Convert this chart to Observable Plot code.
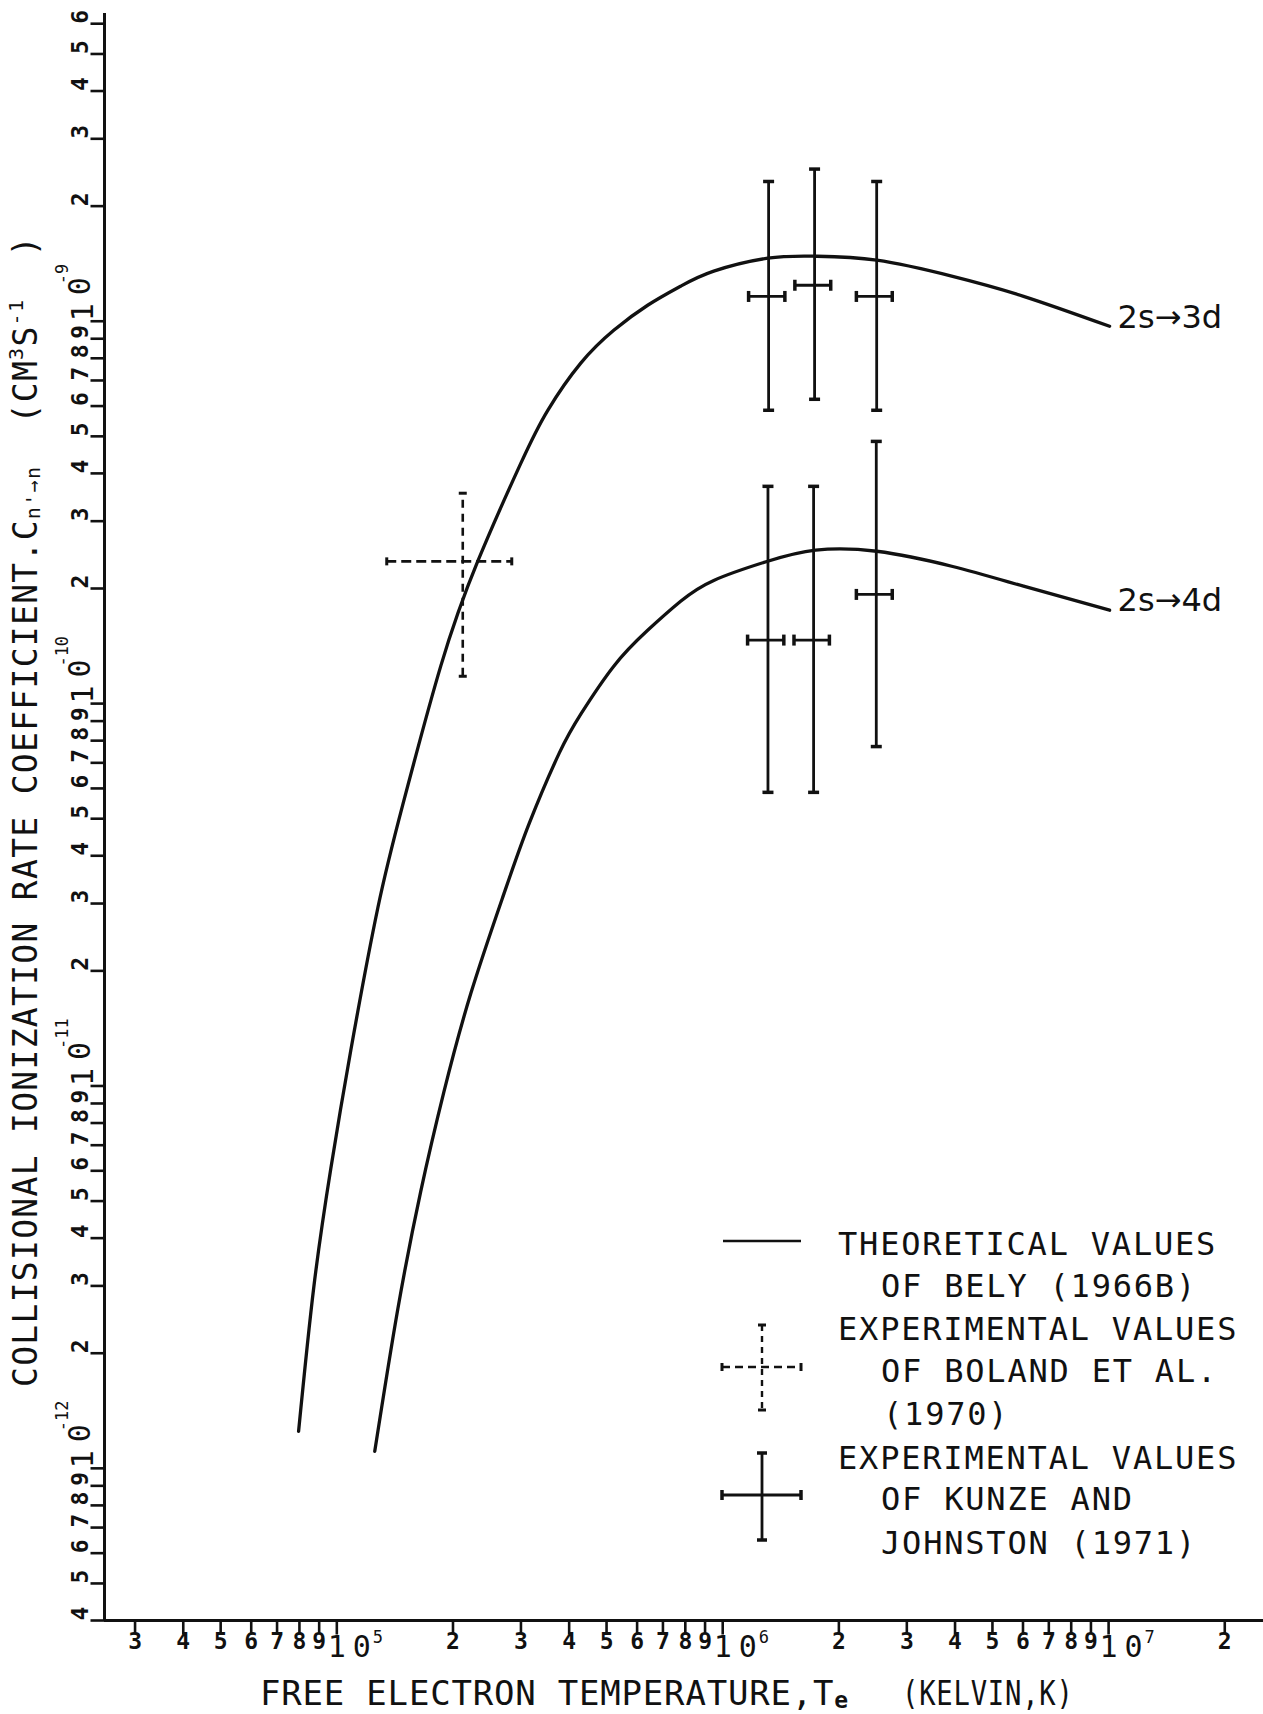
<!DOCTYPE html>
<html>
<head>
<meta charset="utf-8">
<script src="https://cdn.jsdelivr.net/npm/d3@7"></script>
<script src="https://cdn.jsdelivr.net/npm/@observablehq/plot@0.6"></script>
<style>
  html, body { margin: 0; padding: 0; background: #fff; }
  #chart svg { display: block; }
</style>
</head>
<body>
<div id="chart"></div>
<script>
// ---- Axis extents (kelvin, cm^3 s^-1) ----
const tempDomain = [2.5e4, 2.52e7];
const rateDomain = [4e-13, 6.38e-9];

// ---- Tick values and labels ----
const xMinorTicks = [3e4, 4e4, 5e4, 6e4, 7e4, 8e4, 9e4,
  2e5, 3e5, 4e5, 5e5, 6e5, 7e5, 8e5, 9e5,
  2e6, 3e6, 4e6, 5e6, 6e6, 7e6, 8e6, 9e6,
  2e7];
const xMinorLabels = ["3", "4", "5", "6", "7", "8", "9",
  "2", "3", "4", "5", "6", "7", "8", "9",
  "2", "3", "4", "5", "6", "7", "8", "9",
  "2"];
const xDecades = [1e5, 1e6, 1e7];
const xDecadeExps = ["5", "6", "7"];

const yMinorTicks = [4e-13, 5e-13, 6e-13, 7e-13, 8e-13, 9e-13,
  2e-12, 3e-12, 4e-12, 5e-12, 6e-12, 7e-12, 8e-12, 9e-12,
  2e-11, 3e-11, 4e-11, 5e-11, 6e-11, 7e-11, 8e-11, 9e-11,
  2e-10, 3e-10, 4e-10, 5e-10, 6e-10, 7e-10, 8e-10, 9e-10,
  2e-9, 3e-9, 4e-9, 5e-9, 6e-9];
const yMinorLabels = ["4", "5", "6", "7", "8", "9",
  "2", "3", "4", "5", "6", "7", "8", "9",
  "2", "3", "4", "5", "6", "7", "8", "9",
  "2", "3", "4", "5", "6", "7", "8", "9",
  "2", "3", "4", "5", "6"];
const yDecades = [1e-12, 1e-11, 1e-10, 1e-9];
const yDecadeExps = ["-12", "-11", "-10", "-9"];

// ---- Theoretical values of Bely (1966b) ----
const curveLabels = ["2s→3d", "2s→4d"];
const bely3dT = [7.96e4, 8.72e4, 9.65e4, 1.087e5, 1.277e5, 1.483e5, 1.859e5, 2.319e5,
  2.997e5, 3.521e5, 4.287e5, 5.22e5, 6.39e5, 7.78e5, 9.48e5, 1.308e6, 1.741e6,
  2.506e6, 3.92e6, 6.02e6, 1.006e7];
const bely3dC = [1.25e-12, 2.99e-12, 6.09e-12, 1.24e-11, 2.92e-11, 5.45e-11, 1.253e-10, 2.357e-10,
  4.25e-10, 5.85e-10, 7.77e-10, 9.47e-10, 1.101e-9, 1.235e-9, 1.352e-9, 1.462e-9, 1.479e-9,
  1.444e-9, 1.312e-9, 1.162e-9, 9.70e-10];
const bely4dT = [1.254e5, 1.439e5, 1.650e5, 1.893e5, 2.225e5, 2.707e5, 3.152e5, 3.770e5,
  4.30e5, 5.22e5, 6.39e5, 7.78e5, 9.48e5, 1.308e6, 1.741e6, 2.506e6, 3.92e6,
  6.02e6, 1.006e7];
const bely4dC = [1.108e-12, 2.61e-12, 5.30e-12, 9.62e-12, 1.747e-11, 3.17e-11, 4.86e-11, 7.42e-11,
  9.43e-11, 1.253e-10, 1.555e-10, 1.852e-10, 2.10e-10, 2.357e-10, 2.52e-10, 2.503e-10, 2.287e-10,
  2.028e-10, 1.755e-10];

// ---- Experimental values of Kunze and Johnston (1971) ----
const kunzeLine = ["2s→3d", "2s→3d", "2s→3d", "2s→4d", "2s→4d", "2s→4d"];
const kunzeT   = [1.315e6, 1.73e6, 2.506e6, 1.31e6, 1.72e6, 2.50e6];
const kunzeTlo = [1.167e6, 1.538e6, 2.22e6, 1.16e6, 1.53e6, 2.22e6];
const kunzeThi = [1.449e6, 1.905e6, 2.75e6, 1.44e6, 1.89e6, 2.75e6];
const kunzeC   = [1.161e-9, 1.242e-9, 1.161e-9, 1.466e-10, 1.466e-10, 1.93e-10];
const kunzeClo = [5.85e-10, 6.25e-10, 5.85e-10, 5.86e-11, 5.86e-11, 7.72e-11];
const kunzeChi = [2.32e-9, 2.50e-9, 2.32e-9, 3.70e-10, 3.70e-10, 4.85e-10];

// ---- Experimental value of Boland et al. (1970) ----
const bolandT   = [2.12e5];
const bolandTlo = [1.347e5];
const bolandThi = [2.84e5];
const bolandC   = [2.355e-10];
const bolandClo = [1.179e-10];
const bolandChi = [3.55e-10];

// ---- Tables built from the arrays ----
const bely = [
  ...bely3dT.map((T, i) => ({T, C: bely3dC[i], line: curveLabels[0]})),
  ...bely4dT.map((T, i) => ({T, C: bely4dC[i], line: curveLabels[1]}))
];
const curveEnds = [
  {T: bely3dT[bely3dT.length - 1], C: bely3dC[bely3dC.length - 1], label: curveLabels[0]},
  {T: bely4dT[bely4dT.length - 1], C: bely4dC[bely4dC.length - 1], label: curveLabels[1]}
];
const kunze = kunzeT.map((T, i) => ({
  line: kunzeLine[i], T, Tlo: kunzeTlo[i], Thi: kunzeThi[i],
  C: kunzeC[i], Clo: kunzeClo[i], Chi: kunzeChi[i]
}));
const boland = bolandT.map((T, i) => ({
  T, Tlo: bolandTlo[i], Thi: bolandThi[i], C: bolandC[i], Clo: bolandClo[i], Chi: bolandChi[i]
}));
const xMinor = xMinorTicks.map((v, i) => ({v, label: xMinorLabels[i]}));
const yMinor = yMinorTicks.map((v, i) => ({v, label: yMinorLabels[i]}));
const xDec = xDecades.map((v, i) => ({v, exp: xDecadeExps[i]}));
const yDec = yDecades.map((v, i) => ({v, exp: yDecadeExps[i]}));

// ---- Stroke-only symbols for ticks and error-bar caps ----
const tickLeft = {draw(c) { c.moveTo(-14, 0); c.lineTo(0, 0); }};
const tickDown = {draw(c) { c.moveTo(0, 0); c.lineTo(0, 14); }};
const capWide = (w) => ({draw(c) { c.moveTo(-w / 2, 0); c.lineTo(w / 2, 0); }});
const capTall = (h) => ({draw(c) { c.moveTo(0, -h / 2); c.lineTo(0, h / 2); }});

const MONO = "DejaVu Sans Mono";
const ink = "#111";

const chart = Plot.plot({
  width: 1263,
  height: 1714,
  marginLeft: 104,
  marginRight: 0,
  marginTop: 13,
  marginBottom: 94,
  style: {background: "#fff", fontFamily: MONO, color: ink},
  x: {type: "log", domain: tempDomain, axis: null},
  y: {type: "log", domain: rateDomain, axis: null},
  marks: [
    // axes
    Plot.ruleY([rateDomain[0]], {stroke: ink, strokeWidth: 3}),
    Plot.ruleX([tempDomain[0]], {stroke: ink, strokeWidth: 3}),
    Plot.dot([...xMinorTicks, ...xDecades], {x: d => d, frameAnchor: "bottom", symbol: tickDown, r: 5, fill: "none", stroke: ink, strokeWidth: 2.6}),
    Plot.dot([...yMinorTicks, ...yDecades], {y: d => d, frameAnchor: "left", symbol: tickLeft, r: 5, fill: "none", stroke: ink, strokeWidth: 2.6}),

    // x tick labels
    Plot.text(xMinor, {x: "v", text: "label", frameAnchor: "bottom", dy: 28, fontSize: 23, fontWeight: "bold", fill: ink}),
    Plot.text(xDec, {x: "v", text: () => "1", frameAnchor: "bottom", dy: 36, fontSize: 30, fill: ink}),
    Plot.text(xDec, {x: "v", text: () => "0", frameAnchor: "bottom", dy: 36, dx: 25, fontSize: 30, fill: ink}),
    Plot.text(xDec, {x: "v", text: "exp", frameAnchor: "bottom", dy: 22, dx: 36, textAnchor: "start", fontSize: 17, fill: ink}),

    // y tick labels (rotated)
    Plot.text(yMinor, {y: "v", text: "label", frameAnchor: "left", dx: -24, rotate: -90, fontSize: 23, fontWeight: "bold", fill: ink}),
    Plot.text(yDec, {y: "v", text: () => "1", frameAnchor: "left", dx: -21, rotate: -90, fontSize: 30, fill: ink}),
    Plot.text(yDec, {y: "v", text: () => "0", frameAnchor: "left", dx: -24, dy: -26, rotate: -90, fontSize: 30, fill: ink}),
    Plot.text(yDec, {y: "v", text: "exp", frameAnchor: "left", dx: -42, dy: -37, rotate: -90, textAnchor: "start", fontSize: 17, fill: ink}),

    // theoretical curves
    Plot.line(bely, {x: "T", y: "C", z: "line", curve: "natural", stroke: ink, strokeWidth: 3.3}),
    Plot.text(curveEnds, {x: "T", y: "C", text: "label", dx: 8, dy: -9, textAnchor: "start", fontFamily: "DejaVu Sans", fontSize: 32, fill: ink}),

    // Kunze and Johnston error bars
    Plot.ruleX(kunze, {x: "T", y1: "Clo", y2: "Chi", stroke: ink, strokeWidth: 2.8}),
    Plot.ruleY(kunze, {y: "C", x1: "Tlo", x2: "Thi", stroke: ink, strokeWidth: 2.8}),
    Plot.dot(kunze, {x: "T", y: "Clo", symbol: capWide(11), r: 5, fill: "none", stroke: ink, strokeWidth: 3.5}),
    Plot.dot(kunze, {x: "T", y: "Chi", symbol: capWide(11), r: 5, fill: "none", stroke: ink, strokeWidth: 3.5}),
    Plot.dot(kunze, {x: "Tlo", y: "C", symbol: capTall(11), r: 5, fill: "none", stroke: ink, strokeWidth: 3.5}),
    Plot.dot(kunze, {x: "Thi", y: "C", symbol: capTall(11), r: 5, fill: "none", stroke: ink, strokeWidth: 3.5}),

    // Boland et al. dashed error bars
    Plot.ruleX(boland, {x: "T", y1: "Clo", y2: "Chi", stroke: ink, strokeWidth: 2.6, strokeDasharray: "8,6"}),
    Plot.ruleY(boland, {y: "C", x1: "Tlo", x2: "Thi", stroke: ink, strokeWidth: 2.6, strokeDasharray: "10,5"}),
    Plot.dot(boland, {x: "T", y: "Clo", symbol: capWide(8), r: 5, fill: "none", stroke: ink, strokeWidth: 3}),
    Plot.dot(boland, {x: "T", y: "Chi", symbol: capWide(8), r: 5, fill: "none", stroke: ink, strokeWidth: 3}),
    Plot.dot(boland, {x: "Tlo", y: "C", symbol: capTall(8), r: 5, fill: "none", stroke: ink, strokeWidth: 3}),
    Plot.dot(boland, {x: "Thi", y: "C", symbol: capTall(8), r: 5, fill: "none", stroke: ink, strokeWidth: 3})
  ]
});

document.getElementById("chart").append(chart);
const svg = d3.select(chart);

// ---- Axis titles ----
const yTitle = svg.append("text")
  .attr("transform", "translate(37,1387) rotate(-90)")
  .attr("text-anchor", "start")
  .attr("font-family", MONO).attr("font-size", 33)
  .attr("letter-spacing", "1.3px").attr("fill", ink);
yTitle.append("tspan").text("COLLISIONAL IONIZATION RATE COEFFICIENT.C");
yTitle.append("tspan").attr("font-size", 20).attr("dy", 3).text("n'→n");
yTitle.append("tspan").attr("dy", -3).text("  (CM");
yTitle.append("tspan").attr("font-size", 20).attr("dy", -14).text("3");
yTitle.append("tspan").attr("dy", 14).text("S");
yTitle.append("tspan").attr("font-size", 20).attr("dy", -14).text("-1");
yTitle.append("tspan").attr("dy", 14).text("  )");

const xTitle = svg.append("text")
  .attr("x", 260).attr("y", 1705)
  .attr("text-anchor", "start")
  .attr("font-family", MONO).attr("font-size", 34)
  .attr("letter-spacing", "0.8px").attr("fill", ink);
xTitle.append("tspan").text("FREE ELECTRON TEMPERATURE,T");
xTitle.append("tspan").attr("font-size", 23).attr("font-weight", "bold").attr("dy", 3).text("e");
// the unit is lettered narrower
svg.append("text")
  .attr("transform", "translate(902,1705) scale(0.8,1)")
  .attr("text-anchor", "start")
  .attr("font-family", MONO).attr("font-size", 34)
  .attr("letter-spacing", "1px").attr("fill", ink)
  .text("(KELVIN,K)");

// ---- Legend ----
const lg = svg.append("g").attr("stroke", ink).attr("fill", "none");
// theoretical
lg.append("line").attr("x1", 723).attr("x2", 801).attr("y1", 1241).attr("y2", 1241).attr("stroke-width", 2.6);
// Boland et al. (dashed cross)
lg.append("line").attr("x1", 762).attr("x2", 762).attr("y1", 1325).attr("y2", 1410).attr("stroke-width", 2.4).attr("stroke-dasharray", "6,5");
lg.append("line").attr("x1", 722).attr("x2", 801).attr("y1", 1367).attr("y2", 1367).attr("stroke-width", 2.4).attr("stroke-dasharray", "8,5");
[[758, 1325, 766, 1325], [758, 1410, 766, 1410], [722, 1363, 722, 1371], [801, 1363, 801, 1371]]
  .forEach(([a, b, c, d]) => lg.append("line").attr("x1", a).attr("y1", b).attr("x2", c).attr("y2", d).attr("stroke-width", 3));
// Kunze and Johnston (solid cross)
lg.append("line").attr("x1", 762).attr("x2", 762).attr("y1", 1453).attr("y2", 1540).attr("stroke-width", 2.8);
lg.append("line").attr("x1", 722).attr("x2", 801).attr("y1", 1495).attr("y2", 1495).attr("stroke-width", 2.8);
[[757, 1453, 767, 1453], [757, 1540, 767, 1540], [722, 1490, 722, 1500], [801, 1490, 801, 1500]]
  .forEach(([a, b, c, d]) => lg.append("line").attr("x1", a).attr("y1", b).attr("x2", c).attr("y2", d).attr("stroke-width", 3.5));

const legendLines = [
  ["THEORETICAL VALUES", 838, 1243],
  ["OF BELY (1966B)", 881, 1285],
  ["EXPERIMENTAL VALUES", 838, 1328],
  ["OF BOLAND ET AL.", 881, 1370],
  ["(1970)", 883, 1413],
  ["EXPERIMENTAL VALUES", 838, 1457],
  ["OF KUNZE AND", 881, 1498],
  ["JOHNSTON (1971)", 881, 1542]
];
svg.append("g")
  .attr("text-anchor", "start")
  .attr("font-family", MONO).attr("font-size", 32).attr("letter-spacing", "1.8px").attr("fill", ink)
  .selectAll("text").data(legendLines).join("text")
  .attr("x", d => d[1]).attr("y", d => d[2]).attr("dy", "0.36em")
  .text(d => d[0]);
</script>
</body>
</html>
